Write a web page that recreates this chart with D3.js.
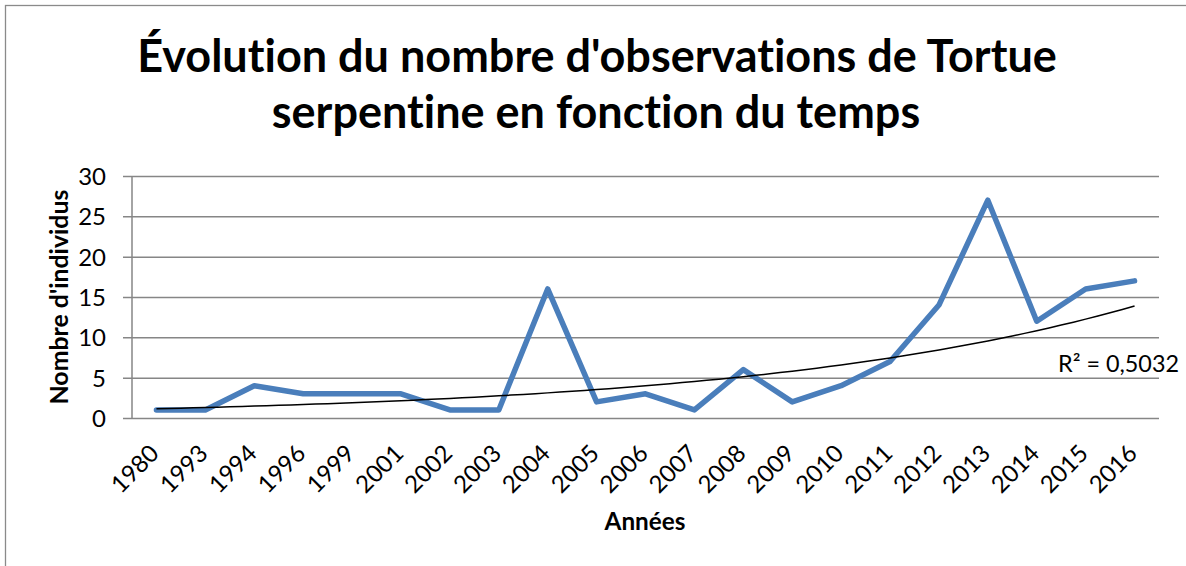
<!DOCTYPE html>
<html><head><meta charset="utf-8">
<script src="https://cdn.jsdelivr.net/npm/d3@7"></script>
<style>body{margin:0;background:#fff}svg{display:block}text{font-family:Lato,"Open Sans",sans-serif;fill:#000;font-variant-ligatures:none;font-feature-settings:"liga" 0}</style>
</head><body>
<script>
const years = ["1980","1993","1994","1996","1999","2001","2002","2003","2004","2005","2006","2007","2008","2009","2010","2011","2012","2013","2014","2015","2016"];
const counts = [1,1,4,3,3,3,1,1,16,2,3,1,6,2,4,7,14,27,12,16,17];
const yTicks = [0,5,10,15,20,25,30];
const titleLines = ["Évolution du nombre d'observations de Tortue","serpentine en fonction du temps"];
const yTitle = "Nombre d'individus";
const xTitle = "Années";
const r2Label = "R² = 0,5032";

const W = 1186, H = 566;
const svg = d3.select("body").append("svg").attr("width", W).attr("height", H);
svg.append("rect").attr("x",5.5).attr("y",5.5).attr("width",1300).attr("height",700)
  .attr("fill","none").attr("stroke","#8a8a8a").attr("stroke-width",1.3);

const plot = {l:132, r:1159, t:176, b:418};
const x = d3.scaleBand().domain(years).range([plot.l, plot.r]).padding(0);
const y = d3.scaleLinear().domain([0,30]).range([plot.b, plot.t]);
const cx = d => x(d) + x.bandwidth()/2;

function fit(sel, target){
  const base = +sel.attr("font-size");
  const w = sel.node().getComputedTextLength();
  sel.attr("font-size", base*target/w);
  return base*target/w;
}

// gridlines + y axis
const yAxis = d3.axisLeft(y).tickValues(yTicks).tickSize(9).tickPadding(17).tickFormat(d3.format("d"));
const gy = svg.append("g").attr("transform",`translate(${plot.l},0)`).call(yAxis);
gy.select(".domain").attr("stroke","#868686").attr("stroke-width",1.5).attr("d",`M0,${plot.t}V${plot.b}`);
gy.selectAll(".tick line").attr("stroke","#868686").attr("stroke-width",1.5)
  .attr("x1",-9).attr("x2",plot.r-plot.l);
gy.selectAll(".tick text").attr("font-size",24).attr("font-family","Lato").attr("fill","#000").attr("dy","0.35em");

// x axis labels
const gx = svg.append("g");
gx.selectAll("text").data(years).join("text")
  .attr("font-size",24).attr("text-anchor","end")
  .attr("transform",d=>`translate(${cx(d)+4},${455}) rotate(-45)`)
  .text(d=>d);

// trendline (exponential fit)
const xs = counts.map((_,i)=>i+1);
const ly = counts.map(v=>Math.log(v));
const mx = d3.mean(xs), my = d3.mean(ly);
const b = d3.sum(xs.map((xi,i)=>(xi-mx)*(ly[i]-my))) / d3.sum(xs.map(xi=>(xi-mx)**2));
const a = Math.exp(my - b*mx);
const trend = d3.range(1, 21.001, 0.25).map(t=>[t, a*Math.exp(b*t)]);
const tx = t => cx(years[0]) + (t-1)*x.bandwidth();

// data line
svg.append("path").datum(counts)
  .attr("fill","none").attr("stroke","#4A7EBB").attr("stroke-width",5.5)
  .attr("stroke-linejoin","round").attr("stroke-linecap","round")
  .attr("d", d3.line().x((d,i)=>cx(years[i])).y(d=>y(d)));

svg.append("path").datum(trend)
  .attr("fill","none").attr("stroke","#000").attr("stroke-width",1.5)
  .attr("d", d3.line().x(d=>tx(d[0])).y(d=>y(d[1])));

// titles
const t1 = svg.append("text").attr("x",597).attr("y",72).attr("text-anchor","middle")
  .attr("font-weight","bold").attr("font-size",40).text(titleLines[0]);
const fs = fit(t1, 920);
svg.append("text").attr("x",596).attr("y",128).attr("text-anchor","middle")
  .attr("font-weight","bold").attr("font-size",fs).text(titleLines[1]);

const yt = svg.append("text").attr("text-anchor","middle").attr("font-weight","bold").attr("font-size",19)
  .attr("transform",`translate(68,${(plot.t+plot.b)/2}) rotate(-90)`).text(yTitle);
fit(yt, 215);

const xt = svg.append("text").attr("x",645).attr("y",530).attr("text-anchor","middle")
  .attr("font-weight","bold").attr("font-size",20).text(xTitle);
fit(xt, 81);

const rt = svg.append("text").attr("x",1179).attr("y",372).attr("text-anchor","end")
  .attr("font-size",20).text(r2Label);
fit(rt, 121);
</script>
</body></html>
